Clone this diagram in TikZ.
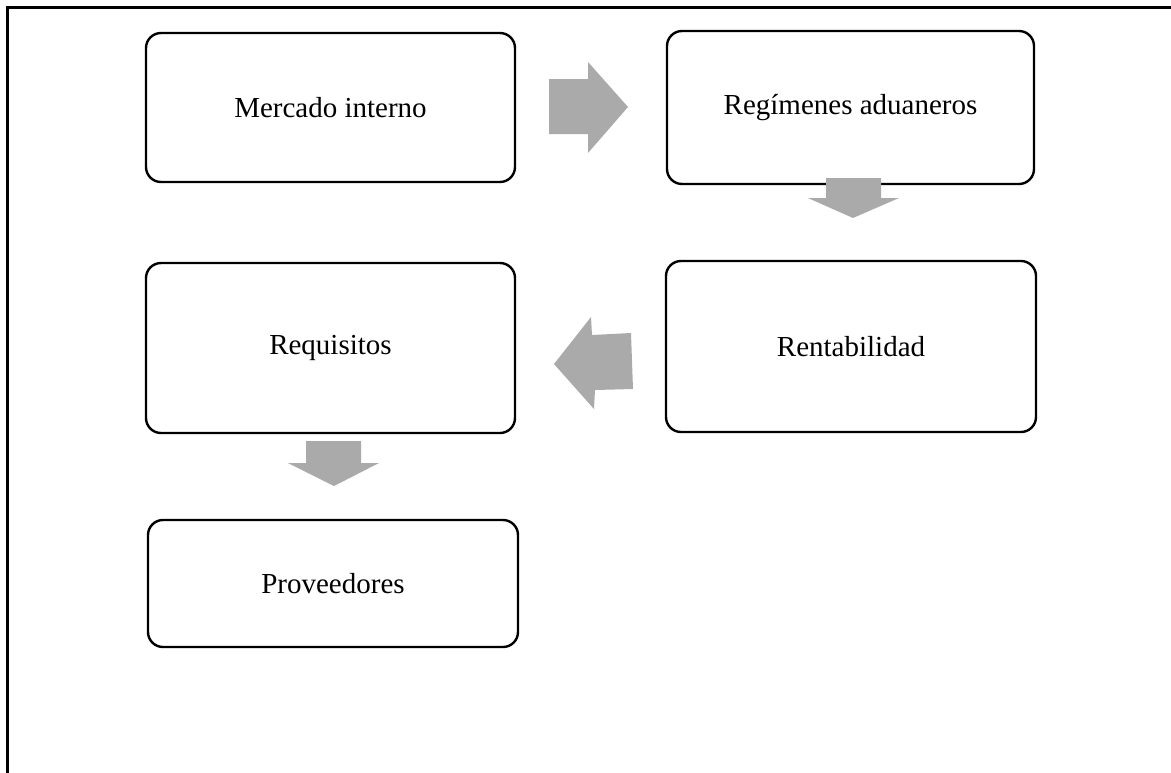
\documentclass[tikz,border=0pt]{standalone}
\usepackage{fontspec}
\setmainfont{Liberation Serif}
\definecolor{arrowgray}{RGB}{170,170,170}
\begin{document}
\begin{tikzpicture}[x=1pt,y=-1pt,
  box/.style={draw=black,line width=2.4pt,rounded corners=15pt,fill=white,inner sep=0pt,
    font=\fontsize{29}{34}\selectfont},
  blockarrow/.style={fill=arrowgray,draw=none},
  frameline/.style={line width=2.6pt,line cap=rect}]
\useasboundingbox (0,0) rectangle (1171,772);
\draw[frameline] (7.5,772) -- (7.5,7.5) -- (1171,7.5);

\node[box,minimum width=369pt,minimum height=149pt] (mercado) at (330.5,107.5) {Mercado interno};
\node[box,minimum width=367pt,minimum height=153pt] (regimenes) at (850.5,107.5) {Regímenes aduaneros};
\node[box,minimum width=370pt,minimum height=171pt] (rentab) at (851,346.5) {Rentabilidad};
\node[box,minimum width=369pt,minimum height=170pt] (requis) at (330.5,348) {Requisitos};
\node[box,minimum width=370pt,minimum height=127pt] (provee) at (333,583.5) {Proveedores};

% mercado -> regimenes
\fill[blockarrow] (549,79) -- (588,79) -- (588,62) -- (628,107) -- (588,153) -- (588,134) -- (549,134) -- cycle;
% regimenes -> rentabilidad
\fill[blockarrow] (826,178) -- (881,178) -- (881,198) -- (899,198) -- (853,218) -- (808,198) -- (826,198) -- cycle;
% rentabilidad -> requisitos
\fill[blockarrow] (631,333) -- (633,389) -- (595,390) -- (594,409) -- (554,364) -- (591,317) -- (592,335) -- cycle;
% requisitos -> proveedores
\fill[blockarrow] (306,441) -- (361,441) -- (361,463) -- (379,463) -- (334,486) -- (288,463) -- (306,463) -- cycle;
\end{tikzpicture}
\end{document}
